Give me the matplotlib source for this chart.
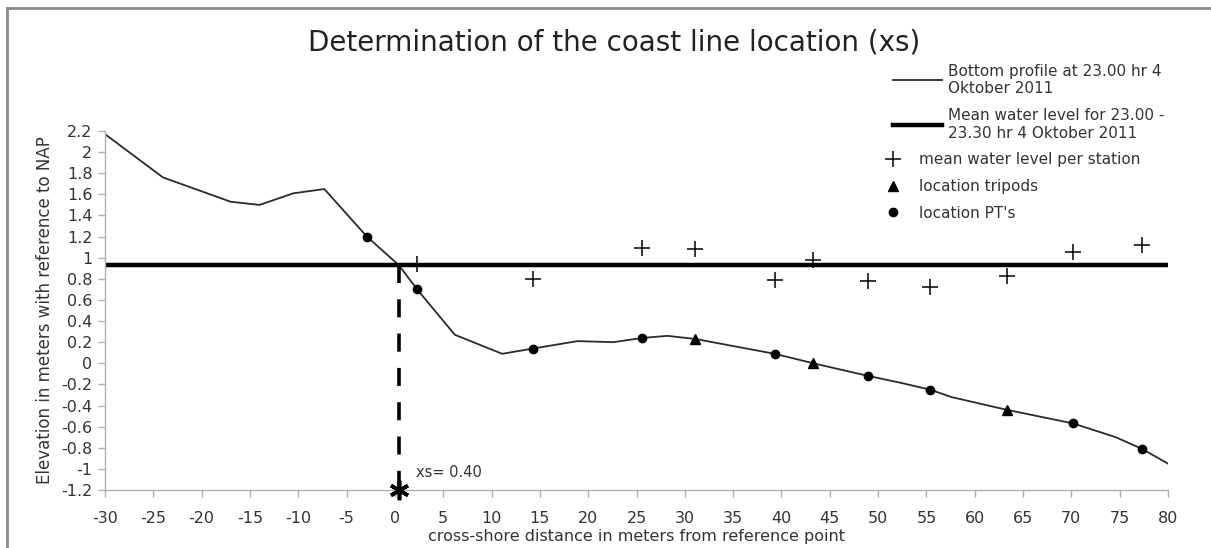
import numpy as np
import matplotlib
matplotlib.use('Agg')
import matplotlib.pyplot as plt
from matplotlib.lines import Line2D

# bottom profile (cross-shore distance, elevation to NAP)
profile_x = [-30, -24, -17, -14, -10.5, -7.3, -2.9, 0.4, 2.3, 6.2, 11.1, 14.3, 18.9,
             22.6, 25.6, 28.2, 31.1, 39.3, 43.3, 49.0, 52.6, 55.4, 57.6, 63.3, 70.2,
             74.6, 77.3, 80]
profile_y = [2.17, 1.76, 1.53, 1.50, 1.61, 1.65, 1.20, 0.93, 0.70, 0.27, 0.09, 0.14, 0.21,
             0.20, 0.24, 0.26, 0.23, 0.09, 0.00, -0.12, -0.19, -0.25, -0.32, -0.44, -0.57,
             -0.70, -0.81, -0.95]

mean_level = 0.93

# mean water level measured at each station
station_x = [2.3, 14.3, 25.6, 31.1, 39.3, 43.3, 49.0, 55.4, 63.3, 70.2, 77.3]
station_wl = [0.94, 0.80, 1.09, 1.08, 0.79, 0.98, 0.78, 0.72, 0.83, 1.05, 1.12]

tripod_x = [31.1, 43.3, 63.3]
tripod_y = [0.23, 0.00, -0.44]

pt_x = [-2.9, 2.3, 14.3, 25.6, 39.3, 49.0, 55.4, 70.2, 77.3]
pt_y = [1.20, 0.70, 0.14, 0.24, 0.09, -0.12, -0.25, -0.57, -0.81]

xs = 0.40
xticks = np.arange(-30, 81, 5)
yticks = np.round(np.arange(-1.2, 2.21, 0.2), 1)

fig = plt.figure(figsize=(12.11, 5.48), dpi=100)
ax = fig.add_axes([0.0867, 0.1058, 0.8778, 0.6552])

txt = '#333333'

l_prof, = ax.plot(profile_x, profile_y, color='#2a2a2a', lw=1.3,
                  label='Bottom profile at 23.00 hr 4\nOktober 2011')
l_mean, = ax.plot([-30, 80], [mean_level, mean_level], color='black', lw=3.2,
                  label='Mean water level for 23.00 -\n23.30 hr 4 Oktober 2011')
l_st, = ax.plot(station_x, station_wl, ls='none', marker='+', ms=11, mew=1.1,
                color='black', label='mean water level per station', clip_on=False)
l_tri, = ax.plot(tripod_x, tripod_y, ls='none', marker='^', ms=6.5, color='black',
                 label='location tripods', clip_on=False)
l_pt, = ax.plot(pt_x, pt_y, ls='none', marker='o', ms=6, color='black',
                label="location PT's", clip_on=False)

# coast line position
ax.plot([xs, xs], [mean_level, -1.2], color='black', lw=2.6, dashes=(5, 4.5))
ax.plot([xs], [-1.2], ls='none', marker=(6, 2, 0), ms=14, mew=2.6,
        color='black', clip_on=False, zorder=5)
ax.text(2.2, -1.03, 'xs= %.2f' % xs, fontsize=10.5, color=txt, va='center')

ax.set_xlim(-30, 80)
ax.set_ylim(-1.2, 2.2)
ax.set_xticks(xticks)
ax.set_yticks(yticks)
ax.set_xticklabels([str(v) for v in xticks])
ax.set_yticklabels(['%g' % (v + 0.0) for v in yticks])
ax.tick_params(axis='both', colors='#b0b0b0', labelcolor=txt, labelsize=11.5,
               length=5, width=1)
ax.tick_params(axis='x', pad=10)
ax.tick_params(axis='y', pad=4)
for s in ['top', 'right']:
    ax.spines[s].set_visible(False)
for s in ['left', 'bottom']:
    ax.spines[s].set_color('#b0b0b0')
    ax.spines[s].set_linewidth(1)

ax.set_ylabel('Elevation in meters with reference to NAP', fontsize=12,
              color=txt, labelpad=5)
ax.set_xlabel('cross-shore distance in meters from reference point', fontsize=11.5,
              color=txt, labelpad=2)

fig.text(0.507, 0.922, 'Determination of the coast line location (xs)',
         fontsize=20, color='#222222', ha='center', va='center')

# legend: line entries and marker entries are laid out separately
leg1 = fig.legend(handles=[l_prof, l_mean], loc='upper left',
                  bbox_to_anchor=(0.7258, 0.909), frameon=False, fontsize=11,
                  handlelength=3.2, handletextpad=0.4, labelspacing=0.8)
leg2 = fig.legend(handles=[l_st, l_tri, l_pt], loc='upper left',
                  bbox_to_anchor=(0.7201, 0.747), frameon=False, fontsize=11,
                  handlelength=1.0, handletextpad=1.2, labelspacing=0.76,
                  numpoints=1)
for leg in (leg1, leg2):
    for t in leg.get_texts():
        t.set_color(txt)

# outer frame
fig.add_artist(Line2D([0.0058, 0.0058], [0, 0.985], transform=fig.transFigure,
                      color='#8a8a8a', lw=2))
fig.add_artist(Line2D([0.0058, 1], [0.985, 0.985], transform=fig.transFigure,
                      color='#8a8a8a', lw=2))

fig.savefig('out.png', dpi=100, facecolor='white')
